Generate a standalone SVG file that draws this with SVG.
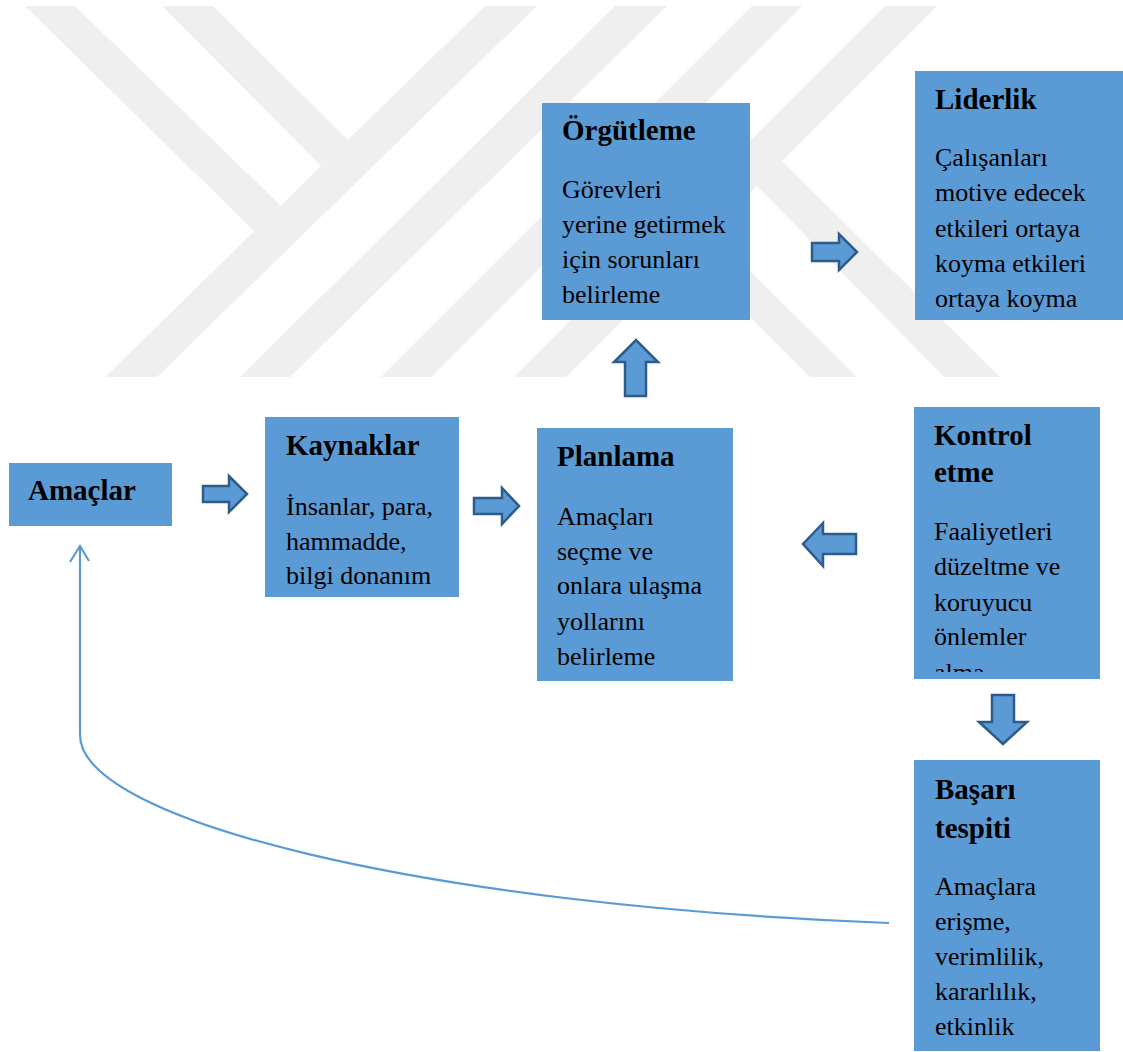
<svg xmlns="http://www.w3.org/2000/svg" width="1123" height="1052" viewBox="0 0 1123 1052">
<style>
.wm{fill:#efefef}
.box{fill:#5b9bd5}
.arr{fill:#5b9bd5;stroke:#2f5b8a;stroke-width:2.5;stroke-linejoin:miter}
.t{font-family:"Liberation Serif","Times New Roman",serif;font-size:29px;font-weight:bold;fill:#000}
.b{font-family:"Liberation Serif","Times New Roman",serif;font-size:26px;fill:#000}
.con{fill:none;stroke:#5b9bd5;stroke-width:2.2}
</style>
<defs>
<clipPath id="kclip"><rect x="914" y="407" width="186" height="265"/></clipPath>
</defs>
<rect width="1123" height="1052" fill="#fff"/>
<g id="watermark">
<polygon class="wm" points="485,6 537,6 157,377 105,377"/>
<polygon class="wm" points="615,6 667,6 290,377 240,377"/>
<polygon class="wm" points="25,6 75,6 281,206 254,231"/>
<polygon class="wm" points="162,6 213,6 348,140 321,166"/>
<polygon class="wm" points="752,6 802,6 431,377 381,377"/>
<polygon class="wm" points="885,6 937,6 566,377 514,377"/>
<polygon class="wm" points="782,161 1000,377 944,377 757,186"/>
<polygon class="wm" points="711,232 857,377 810,377 688,255"/>
</g>
<g id="connectors">
<polygon class="arr" points="203,486 229,486 229,476 247,494 229,512 229,502 203,502"/>
<polygon class="arr" points="474,498 502,498 502,488 519,506 502,524 502,514 474,514"/>
<polygon class="arr" points="625,396 625,362 614,362 636,340 658,362 646,362 646,396"/>
<polygon class="arr" points="812,243 839,243 839,234 857,252 839,270 839,261 812,261"/>
<polygon class="arr" points="856,534 823,534 823,523 803,544 823,566 823,554 856,554"/>
<polygon class="arr" points="992,695 1014,695 1014,722 1027,722 1003,744 979,722 992,722"/>
<path class="con" d="M889,923 C420,905 80,820 80,735 L80,546"/>
<polyline class="con" points="70,562 80,546 89,561"/>
</g>
<g id="amaclar">
<rect class="box" x="9" y="463" width="163" height="63"/>
<text class="t" x="28" y="500">Amaçlar</text>
</g>
<g id="kaynaklar">
<rect class="box" x="265" y="417" width="194" height="180"/>
<text class="t" x="286" y="455">Kaynaklar</text>
<text class="b" x="286" y="515">İnsanlar, para,</text>
<text class="b" x="286" y="550">hammadde,</text>
<text class="b" x="286" y="584">bilgi donanım</text>
</g>
<g id="planlama">
<rect class="box" x="537" y="428" width="196" height="253"/>
<text class="t" x="557" y="466">Planlama</text>
<text class="b" x="557" y="525">Amaçları</text>
<text class="b" x="557" y="560">seçme ve</text>
<text class="b" x="557" y="594">onlara ulaşma</text>
<text class="b" x="557" y="630">yollarını</text>
<text class="b" x="557" y="665">belirleme</text>
</g>
<g id="orgutleme">
<rect class="box" x="542" y="103" width="208" height="217"/>
<text class="t" x="562" y="140">Örgütleme</text>
<text class="b" x="562" y="198">Görevleri</text>
<text class="b" x="562" y="233">yerine getirmek</text>
<text class="b" x="562" y="268">için sorunları</text>
<text class="b" x="562" y="303">belirleme</text>
</g>
<g id="liderlik">
<rect class="box" x="915" y="71" width="208" height="249"/>
<text class="t" x="935" y="109">Liderlik</text>
<text class="b" x="935" y="166">Çalışanları</text>
<text class="b" x="935" y="201">motive edecek</text>
<text class="b" x="935" y="237">etkileri ortaya</text>
<text class="b" x="935" y="272">koyma etkileri</text>
<text class="b" x="935" y="307">ortaya koyma</text>
</g>
<g id="kontrol">
<rect class="box" x="914" y="407" width="186" height="272"/>
<text class="t" x="934" y="445">Kontrol</text>
<text class="t" x="934" y="482">etme</text>
<g clip-path="url(#kclip)">
<text class="b" x="934" y="540">Faaliyetleri</text>
<text class="b" x="934" y="575">düzeltme ve</text>
<text class="b" x="934" y="611">koruyucu</text>
<text class="b" x="934" y="645">önlemler</text>
<text class="b" x="934" y="681">alma</text>
</g>
</g>
<g id="basari">
<rect class="box" x="914" y="760" width="186" height="291"/>
<text class="t" x="935" y="799">Başarı</text>
<text class="t" x="935" y="838">tespiti</text>
<text class="b" x="935" y="895">Amaçlara</text>
<text class="b" x="935" y="930">erişme,</text>
<text class="b" x="935" y="965">verimlilik,</text>
<text class="b" x="935" y="1000">kararlılık,</text>
<text class="b" x="935" y="1035">etkinlik</text>
</g>
</svg>
